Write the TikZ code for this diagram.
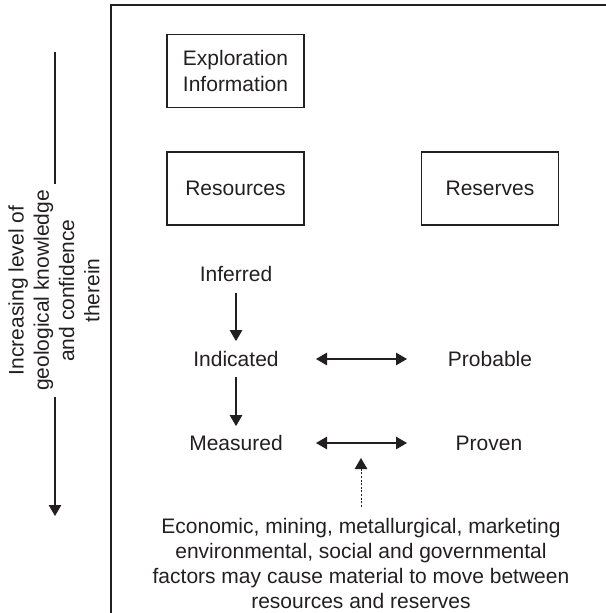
\documentclass[tikz,border=0pt]{standalone}
\usepackage{fontspec}
\setmainfont{Liberation Sans}
\usetikzlibrary{arrows.meta}
\definecolor{ink}{HTML}{231F20}
\begin{document}
\begin{tikzpicture}[x=1pt,y=-1pt,
  every node/.style={text=ink},
  txt/.style={font=\fontsize{21}{25.2}\selectfont, inner sep=1pt},
  box/.style={txt, draw=ink, line width=1.3pt, minimum width=137pt,
    minimum height=73pt, inner sep=0pt, align=center},
  tip/.style={-{Triangle[length=11pt,width=12.5pt]}},
  arr/.style={draw=ink, line width=1.2pt, tip},
  dbl/.style={draw=ink, line width=1.2pt,
    {Triangle[length=11pt,width=12.5pt]}-{Triangle[length=11pt,width=12.5pt]}},
  dotarr/.style={draw=ink, line width=1pt, dash pattern=on 2pt off 1.6pt,
    -{Triangle[length=11pt,width=12.5pt]}},
]
\useasboundingbox (0,0) rectangle (605,613);

% open frame round the classification
\draw[ink, line width=2pt] (111,615) -- (111,5) -- (607,5);

% boxes
\node[box, font=\fontsize{21}{26.5}\selectfont] (expl) at (235.5,71) {Exploration\\Information};
\node[box] (res) at (235.5,188.5) {Resources};
\node[box] (rsv) at (490,188.5) {Reserves};

% categories
\node[txt] (inf)  at (236,274) {Inferred};
\node[txt] (ind)  at (236,359) {Indicated};
\node[txt] (mea)  at (236,443) {Measured};
\node[txt] (prob) at (490,359) {Probable};
\node[txt] (prov) at (489,443) {Proven};

\draw[arr, shorten <=10pt, shorten >=9pt] (inf) -- (ind);
\draw[arr, shorten <=9pt, shorten >=8pt] (ind) -- (mea);
\draw[dbl, shorten <=80pt, shorten >=83pt] (ind.center) -- (prob.center);
\draw[dbl, shorten <=80pt, shorten >=82pt] (mea.center) -- (prov.center);

% modifying factors
\node[txt, align=center] (note) at (361,563.5)
  {Economic, mining, metallurgical, marketing\\
   environmental, social and governmental\\
   factors may cause material to move between\\
   resources and reserves};
\coordinate (mv) at (361,458);
\draw[dotarr, shorten <=10pt] (note.north) -- (mv);

% knowledge axis
\node[txt, rotate=90, align=center, inner xsep=6pt] (axis) at (54,290.5)
  {Increasing level of\\geological knowledge\\and confidence\\therein};
\coordinate (ktop) at (55,52);
\coordinate (kbot) at (55,516);
\draw[ink, line width=1.2pt] (ktop) -- (ktop |- axis.east);
\draw[arr] (ktop |- axis.west) -- (kbot);
\end{tikzpicture}
\end{document}
